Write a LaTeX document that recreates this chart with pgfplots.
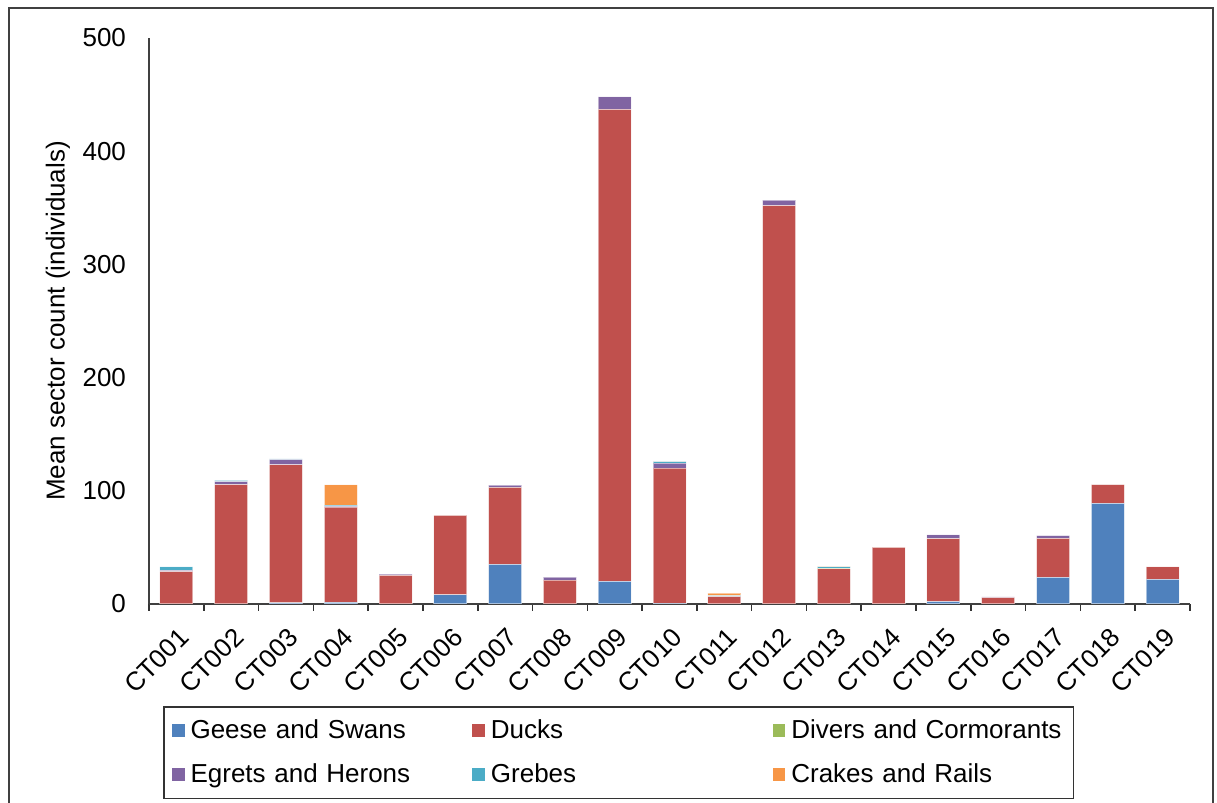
\documentclass[border=0pt]{standalone}
\usepackage{pgfplots}
\pgfplotsset{compat=1.18}
\usepackage{pgfplotstable}
\usepackage{fontspec}
\setmainfont{Liberation Sans}

\definecolor{geese}{HTML}{4F81BD}
\definecolor{ducks}{HTML}{C0504D}
\definecolor{divers}{HTML}{9BBB59}
\definecolor{egrets}{HTML}{8064A2}
\definecolor{grebes}{HTML}{4BACC6}
\definecolor{crakes}{HTML}{F79646}

% mean sector count per site and group
\pgfplotstableread{
x  geese ducks divers egrets grebes crakes
1  0     28.5  0      1.2    3.0    0
2  0     105.5 0      2.5    1.2    0
3  1.0   122   0      4.5    0.8    0
4  1.5   84    0      0.8    1.0    18
5  0     25.3  0      1.2    0      0
6  8     70.3  0      0      0      0
7  35    68    0      2.0    0      0
8  0     21    0      2.7    0      0
9  20    417   0      11     0      0
10 0.5   119.5 0      4.5    1.2    0.3
11 0     6.5   0      0      1.0    2.0
12 0     352   0      4.7    0      0
13 0     31    0.6    0      1.2    0.5
14 0     50    0      0      0      0.3
15 2.0   55.7  0      3.3    0      0
16 0     5.6   0      0.6    0      0
17 23.6  34.4  0      2.4    0      0
18 89    16.4  0      0      0      0
19 21.8  10.9  0      0      0      0
}\sites

\begin{document}
\begin{tikzpicture}[font=\fontsize{13}{15}\selectfont]
\useasboundingbox (-74.5pt,-99.5pt) rectangle (534pt,302pt);
\draw[black!75, line width=0.8pt] (-70pt,-100pt) -- (-70pt,298pt) -- (532pt,298pt) -- (532pt,-100pt);
\begin{axis}[
  scale only axis, width=520.5pt, height=283pt,
  ybar stacked, bar width=16.5pt,
  xmin=0.5, xmax=19.5, ymin=0, ymax=500,
  axis x line*=bottom, axis y line*=left,
  axis line style={black!75, line width=0.8pt},
  xtick={1,...,19},
  xticklabels={CT001,CT002,CT003,CT004,CT005,CT006,CT007,CT008,CT009,CT010,CT011,CT012,CT013,CT014,CT015,CT016,CT017,CT018,CT019},
  minor xtick={0.5,1.5,...,19.5},
  ytick={0,100,...,500},
  major tick length=0pt, minor tick length=3.5pt, tick align=outside,
  minor tick style={black!80, line width=0.8pt},
  xticklabel style={rotate=45, anchor=east, xshift=-4pt, yshift=-13pt},
  yticklabel style={xshift=-8pt},
  /pgf/number format/assume math mode=true,
  ticklabel style={font=\fontsize{13}{15}\selectfont},
  ylabel={Mean sector count (individuals)},
  ylabel style={at={(axis description cs:-0.0874,0.5)}, anchor=center, font=\fontsize{13}{15}\selectfont},
  legend columns=3,
  legend style={at={(axis description cs:0.0134,-0.1802)}, anchor=north west,
    draw=black!80, line width=0.8pt, inner xsep=4pt, inner ysep=5.5pt, row sep=9pt,
    font=\fontsize{13}{15}\selectfont,
    nodes={inner sep=1pt, text width=136pt, anchor=west},
    /tikz/every odd column/.append style={column sep=2pt},
    /tikz/every even column/.append style={column sep=3.8pt}},
  legend image code/.code={\fill[#1, draw=none] (0pt,-3.2pt) rectangle (6.4pt,3.2pt);},
  every axis plot/.append style={draw=white, draw opacity=0.5, line width=0.5pt},
]
\addplot[fill=geese] table[x=x, y=geese] {\sites};
\addplot[fill=ducks] table[x=x, y=ducks] {\sites};
\addplot[fill=divers] table[x=x, y=divers] {\sites};
\addplot[fill=egrets] table[x=x, y=egrets] {\sites};
\addplot[fill=grebes] table[x=x, y=grebes] {\sites};
\addplot[fill=crakes] table[x=x, y=crakes] {\sites};
\legend{Geese and Swans, Ducks, Divers and Cormorants, Egrets and Herons, Grebes, Crakes and Rails}
\end{axis}
\end{tikzpicture}
\end{document}
